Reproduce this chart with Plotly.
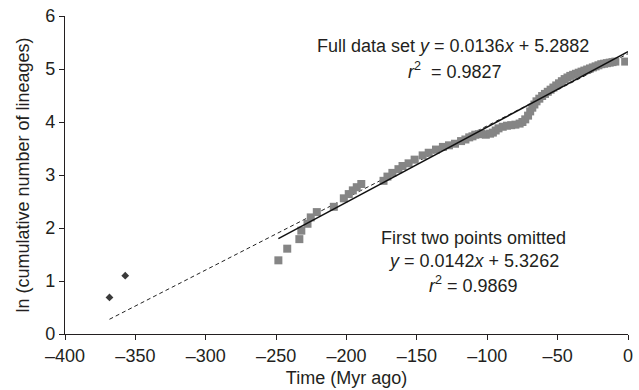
import plotly.graph_objects as go

# First two points (diamonds)
early_x = [-368.4, -357.2]
early_y = [0.69, 1.10]

# Remaining points (grey squares)
grey_x = [-248.4, -242.1, -233.5, -232.1, -227.7, -225.4, -221.1, -209.0, -201.9, -198.4,
          -195.5, -192.7, -189.5, -173.7, -170.9, -167.4, -163.1, -160.2, -155.9, -151.6,
          -145.9, -141.6, -136.4, -131.5, -127.2, -122.9, -118.6, -115.5, -112.8, -110.5,
          -108.5, -106.0, -104.0, -101.0, -98.0, -96.0, -94.0, -92.0, -89.0, -86.0,
          -83.0, -80.0, -77.0, -75.0, -73.0, -71.0, -69.5, -68.0, -66.5, -65.0,
          -63.0, -61.0, -59.0, -57.0, -55.0, -53.0, -51.0, -49.0, -47.0, -45.0,
          -43.0, -41.0, -39.0, -37.0, -35.0, -33.0, -31.0, -29.0, -27.0, -25.0,
          -23.0, -21.0, -19.0, -17.0, -15.0, -13.0, -11.0, -9.0, -2.0]
grey_y = [1.39, 1.61, 1.79, 1.95, 2.08, 2.20, 2.30, 2.40, 2.56, 2.64,
          2.71, 2.77, 2.83, 2.89, 2.97, 3.04, 3.11, 3.17, 3.22, 3.29,
          3.37, 3.42, 3.48, 3.53, 3.56, 3.59, 3.64, 3.67, 3.71, 3.73,
          3.76, 3.77, 3.78, 3.76, 3.78, 3.80, 3.84, 3.88, 3.91, 3.93,
          3.94, 3.95, 3.97, 4.00, 4.05, 4.12, 4.20, 4.27, 4.33, 4.39,
          4.44, 4.49, 4.53, 4.57, 4.61, 4.65, 4.69, 4.73, 4.77, 4.81,
          4.84, 4.87, 4.89, 4.91, 4.93, 4.95, 4.97, 4.99, 5.01, 5.03,
          5.05, 5.07, 5.09, 5.10, 5.11, 5.12, 5.13, 5.14, 5.14]

# Fits
full_slope, full_int = 0.0136, 5.2882
omit_slope, omit_int = 0.0142, 5.3262

x_ticks = [-400, -350, -300, -250, -200, -150, -100, -50, 0]
x_tick_text = ["\u2013400", "\u2013350", "\u2013300", "\u2013250", "\u2013200",
               "\u2013150", "\u2013100", "\u201350", "0"]
y_ticks = [0, 1, 2, 3, 4, 5, 6]

FONT = "Liberation Sans, Arial, sans-serif"
TXT = "#231f20"
FS = 18

fig = go.Figure()

# Full data set fit (dashed)
fx = [min(early_x), 0]
fig.add_trace(go.Scatter(x=fx, y=[full_slope * v + full_int for v in fx], mode="lines",
                         line=dict(color="#222222", width=1, dash="4px,3px"),
                         showlegend=False, hoverinfo="skip"))

fig.add_trace(go.Scatter(x=grey_x, y=grey_y, mode="markers",
                         marker=dict(symbol="square", size=8, color="#858585"),
                         showlegend=False))
fig.add_trace(go.Scatter(x=early_x, y=early_y, mode="markers",
                         marker=dict(symbol="diamond", size=6, color="#3a3a3a"),
                         showlegend=False))

# First two points omitted fit (solid)
ox = [min(grey_x), 0]
fig.add_trace(go.Scatter(x=ox, y=[omit_slope * v + omit_int for v in ox], mode="lines",
                         line=dict(color="#111111", width=1.5),
                         showlegend=False, hoverinfo="skip"))

def ann(x, y, text):
    fig.add_annotation(x=x, y=y, xref="x", yref="y", text=text, showarrow=False,
                       font=dict(family=FONT, size=FS, color=TXT), xanchor="center",
                       yanchor="middle")

ann(-124, 5.44, "Full data set <i>y</i> = 0.0136<i>x</i> + 5.2882")
ann(-123, 4.98, "<i>r</i><sup>2</sup>  = 0.9827")
ann(-110, 1.82, "First two points omitted")
ann(-110, 1.38, "<i>y</i> = 0.0142<i>x</i> + 5.3262")
ann(-110, 0.94, "<i>r</i><sup>2</sup> = 0.9869")

axis_common = dict(showline=True, linecolor="#231f20", linewidth=1.2, ticks="outside",
                   ticklen=5, tickcolor="#231f20", showgrid=False, zeroline=False,
                   tickfont=dict(family=FONT, size=FS, color=TXT))

fig.update_xaxes(range=[-400, 0], tickvals=x_ticks, ticktext=x_tick_text,
                 title=dict(text="Time (Myr ago)", font=dict(family=FONT, size=FS, color=TXT),
                            standoff=6),
                 **axis_common)
fig.update_yaxes(range=[0, 6], tickvals=y_ticks,
                 title=dict(text="ln (cumulative number of lineages)",
                            font=dict(family=FONT, size=FS, color=TXT), standoff=10),
                 **axis_common)

fig.update_layout(width=639, height=390, margin=dict(l=65, r=6, t=13, b=56),
                  plot_bgcolor="white", paper_bgcolor="white")

fig.write_html("out.html")
